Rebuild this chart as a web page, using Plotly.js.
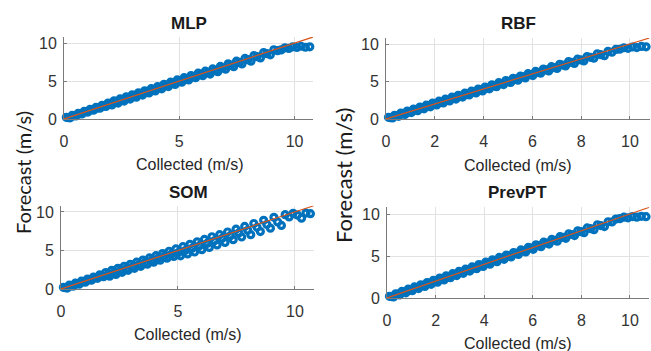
<!DOCTYPE html>
<html><head><meta charset="utf-8">
<script src="https://cdn.plot.ly/plotly-3.0.1.min.js"></script>
<style>html,body{margin:0;padding:0;background:#fff}#chart{width:651px;height:351px}</style>
</head><body><div id="chart"></div>
<script>
// Collected wind speed (m/s), shared by all four models
const collected = [
0.10,0.18,0.27,0.35,0.44,0.52,0.61,0.70,0.78,0.87,
0.95,1.04,1.13,1.21,1.30,1.39,1.47,1.56,1.65,1.73,
1.82,1.91,2.00,2.08,2.17,2.26,2.35,2.43,2.52,2.61,
2.70,2.79,2.87,2.96,3.05,3.14,3.23,3.32,3.41,3.50,
3.60,3.69,3.78,3.87,3.96,4.06,4.15,4.24,4.34,4.43,
4.53,4.62,4.72,4.82,4.91,5.01,5.11,5.21,5.31,5.41,
5.51,5.61,5.71,5.82,5.92,6.02,6.13,6.24,6.34,6.45,
6.56,6.67,6.78,6.89,7.01,7.12,7.24,7.36,7.48,7.60,
7.72,7.85,7.98,8.11,8.24,8.38,8.52,8.66,8.80,8.95,
9.10,9.26,9.42,9.58,9.75,9.92,10.10,10.28,10.47,10.66];

const mlp = [
0.22,0.18,0.15,0.47,0.44,0.40,0.73,0.70,0.66,1.00,
0.95,0.91,1.27,1.20,1.17,1.54,1.46,1.42,1.80,1.72,
1.66,2.10,1.98,1.86,2.39,2.24,2.10,2.65,2.50,2.36,
2.92,2.77,2.62,3.18,3.03,2.88,3.46,3.30,3.15,3.72,
3.58,3.43,4.00,3.85,3.70,4.28,4.13,3.98,4.57,4.41,
4.27,4.85,4.70,4.55,5.14,4.99,4.84,5.44,5.28,5.14,
5.73,5.58,5.44,6.03,5.88,5.70,6.30,6.10,5.92,6.60,
6.41,6.22,6.93,6.74,6.55,7.27,7.09,6.88,7.62,7.45,
7.25,7.98,7.82,7.62,8.35,8.22,8.05,8.75,8.60,8.45,
9.12,9.00,9.10,9.38,9.30,9.50,9.42,9.58,9.45,9.50];

const rbf = [
0.22,0.17,0.14,0.50,0.44,0.36,0.79,0.70,0.61,1.06,
0.95,0.86,1.33,1.21,1.11,1.59,1.47,1.36,1.85,1.73,
1.62,2.12,2.00,1.87,2.38,2.26,2.14,2.64,2.52,2.40,
2.91,2.79,2.66,3.17,3.05,2.93,3.44,3.32,3.20,3.71,
3.60,3.48,3.99,3.87,3.75,4.27,4.15,4.02,4.56,4.43,
4.31,4.84,4.72,4.59,5.13,5.01,4.88,5.43,5.31,5.18,
5.73,5.61,5.48,6.04,5.92,5.79,6.35,6.23,6.10,6.66,
6.54,6.40,6.98,6.86,6.75,7.30,7.20,7.08,7.64,7.55,
7.40,7.98,7.88,7.75,8.32,8.22,8.10,8.70,8.58,8.45,
9.02,8.90,9.28,9.30,9.50,9.42,9.60,9.52,9.68,9.62];

const som = [
0.22,0.17,0.12,0.50,0.44,0.37,0.76,0.70,0.63,1.02,
0.94,0.88,1.29,1.20,1.14,1.56,1.45,1.38,1.83,1.68,
1.60,2.14,1.85,1.66,2.42,2.10,1.88,2.68,2.36,2.16,
2.95,2.63,2.42,3.21,2.89,2.68,3.48,3.16,2.94,3.76,
3.44,3.22,4.04,3.71,3.48,4.32,3.99,3.74,4.60,4.26,
4.00,4.90,4.52,4.22,5.20,4.72,4.30,5.50,5.00,4.55,
5.80,5.30,4.80,6.12,5.62,5.10,6.43,5.92,5.40,6.78,
6.25,5.72,7.05,6.58,6.05,7.40,6.92,6.40,7.76,7.28,
6.75,8.12,7.62,7.05,8.50,8.00,7.45,8.92,8.38,7.90,
9.30,8.70,8.25,9.65,9.35,9.82,9.60,9.20,9.85,9.78];

const prevpt = [
0.20,0.17,0.13,0.49,0.45,0.37,0.78,0.71,0.62,1.05,
0.96,0.87,1.32,1.22,1.12,1.58,1.48,1.37,1.84,1.74,
1.63,2.11,2.01,1.88,2.37,2.27,2.15,2.63,2.53,2.41,
2.90,2.80,2.67,3.16,3.06,2.94,3.43,3.33,3.21,3.70,
3.61,3.49,3.98,3.88,3.76,4.26,4.16,4.03,4.55,4.44,
4.32,4.83,4.73,4.60,5.12,5.02,4.89,5.42,5.32,5.19,
5.72,5.62,5.49,6.03,5.93,5.80,6.34,6.24,6.11,6.65,
6.55,6.42,6.97,6.87,6.76,7.30,7.22,7.10,7.65,7.56,
7.43,8.00,7.90,7.78,8.35,8.25,8.14,8.72,8.62,8.50,
9.08,9.05,9.40,9.45,9.62,9.55,9.70,9.62,9.72,9.68];

// Ideal (forecast = collected) reference line
const idealX = [0, 10.8];
const idealY = [0, 10.8];

const panelTitles = ['MLP', 'RBF', 'SOM', 'PrevPT'];
const panelSeries = [mlp, rbf, som, prevpt];
const xTickSets = [[0,5,10],[0,2,4,6,8,10],[0,5,10],[0,2,4,6,8,10]];
const yTicks = [0, 5, 10];
const xTitle = 'Collected (m/s)';
const yTitle = 'Forecast (m/s)';

const W = 651, H = 351;
// pixel boxes of each plot area: [left, right, top, bottom]
const boxes = [
  [64, 313, 37, 119],
  [386, 649.5, 38, 119],
  [61, 313.7, 205.8, 289],
  [387, 649.4, 207.3, 298]
];
const titlePos = [[189, 23], [518, 23], [188, 192], [517, 192]];
const xTitlePos = [[190, 164], [518, 165], [188, 334], [518, 343]];

const BLUE = '#0072BD', RED = '#D95319';
const tickFont = {family: 'Liberation Sans, Arial, sans-serif', size: 16, color: '#333333'};

const data = [];
const layout = {
  width: W, height: H,
  margin: {l: 0, r: 0, t: 0, b: 0},
  paper_bgcolor: '#ffffff', plot_bgcolor: '#ffffff',
  showlegend: false,
  annotations: []
};

panelSeries.forEach((ys, i) => {
  const n = i + 1;
  const xa = n === 1 ? 'x' : 'x' + n;
  const ya = n === 1 ? 'y' : 'y' + n;
  data.push({
    type: 'scatter', mode: 'markers', x: collected, y: ys, xaxis: xa, yaxis: ya,
    cliponaxis: false,
    marker: {symbol: 'circle-open', size: 6, color: BLUE, line: {width: 3.2, color: BLUE}},
    hoverinfo: 'skip'
  });
  data.push({
    type: 'scatter', mode: 'lines', x: idealX, y: idealY, xaxis: xa, yaxis: ya,
    line: {color: RED, width: 1.2}, hoverinfo: 'skip'
  });
  const b = boxes[i];
  const common = {
    range: [0, 10.8], showgrid: true, gridcolor: '#e2e2e2', gridwidth: 1,
    zeroline: false, showline: true, linecolor: '#7a7a7a', linewidth: 1, mirror: false,
    ticks: 'inside', ticklen: 3, tickcolor: '#7a7a7a', tickfont: tickFont, fixedrange: true
  };
  layout['xaxis' + (n === 1 ? '' : n)] = Object.assign({}, common, {
    domain: [b[0] / W, b[1] / W], anchor: ya, tickvals: xTickSets[i], ticklabelstandoff: 8
  });
  layout['yaxis' + (n === 1 ? '' : n)] = Object.assign({}, common, {
    domain: [1 - b[3] / H, 1 - b[2] / H], anchor: xa, tickvals: yTicks, ticklabelstandoff: 3
  });
  layout.annotations.push({
    xref: 'paper', yref: 'paper', x: titlePos[i][0] / W, y: 1 - titlePos[i][1] / H,
    xanchor: 'center', yanchor: 'middle', showarrow: false, text: '<b>' + panelTitles[i] + '</b>',
    font: {family: 'Liberation Sans, Arial, sans-serif', size: 17, color: '#1a1a1a'}
  });
  layout.annotations.push({
    xref: 'paper', yref: 'paper', x: xTitlePos[i][0] / W, y: 1 - xTitlePos[i][1] / H,
    xanchor: 'center', yanchor: 'middle', showarrow: false, text: xTitle,
    font: {family: 'Liberation Sans, Arial, sans-serif', size: 16, color: '#262626'}
  });
});

// column y-axis labels
layout.annotations.push({
  xref: 'paper', yref: 'paper', x: 23 / W, y: 1 - 173 / H, textangle: -90,
  xanchor: 'center', yanchor: 'middle', showarrow: false, text: yTitle,
  font: {family: 'Lato, Noto Sans, sans-serif', size: 20, color: '#1a1a1a'}
});
layout.annotations.push({
  xref: 'paper', yref: 'paper', x: 343 / W, y: 1 - 176 / H, textangle: -90,
  xanchor: 'center', yanchor: 'middle', showarrow: false, text: yTitle,
  font: {family: 'Lato, Noto Sans, sans-serif', size: 22, color: '#1a1a1a'}
});

Plotly.newPlot('chart', data, layout, {staticPlot: true, displayModeBar: false});
</script>
</body></html>
